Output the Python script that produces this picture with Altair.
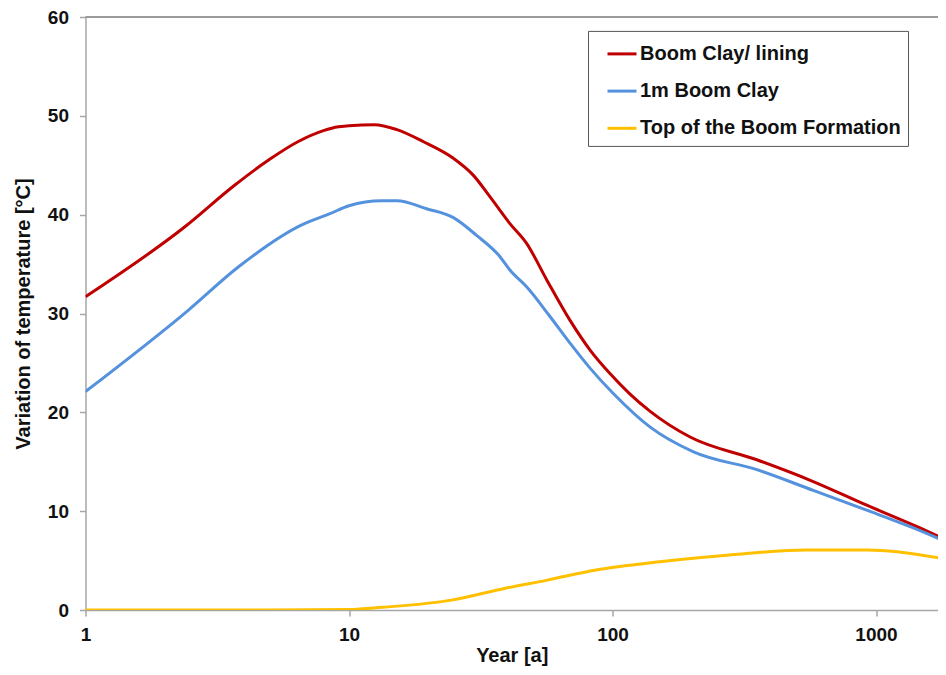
import altair as alt
import pandas as pd

# ---- data ----
series_names = ["Boom Clay/ lining", "1m Boom Clay", "Top of the Boom Formation"]
series_colors = ["#C00000", "#5592DE", "#FFC000"]

red_years = [1, 2.39, 3.69, 5.0, 6.42, 8.0, 9.11, 10, 12.5, 15.2, 19.1, 24.9, 29.6, 34.3,
             40.8, 47.2, 56.3, 69, 82.2, 98, 116, 139, 197, 353, 578, 922, 1469, 1845]
red_vals = [31.7, 38.8, 43.0, 45.6, 47.4, 48.5, 48.9, 49.0, 49.1, 48.6, 47.4, 45.7, 44.0, 41.8,
            39.1, 37.1, 33.4, 29.3, 26.3, 23.9, 21.9, 20.1, 17.5, 15.2, 13.0, 10.6, 8.3, 7.1]

blue_years = [1, 2.46, 3.8, 6.62, 8.47, 10, 13.3, 15.2, 19.7, 24.9, 30.5, 37.4, 40.8, 47.2,
              57.9, 69, 82, 100.7, 139, 203, 353, 578, 922, 1386, 1845]
blue_vals = [22.1, 30.35, 34.7, 38.96, 40.1, 40.9, 41.4, 41.4, 40.6, 39.7, 37.9, 35.75, 34.4, 32.7,
             29.7, 27.0, 24.5, 21.9, 18.5, 16.0, 14.2, 12.1, 10.1, 8.3, 6.9]

yellow_years = [1, 5, 10, 13.3, 24.5, 39.2, 56.1, 86.5, 154, 284, 543, 933, 1202, 1845]
yellow_vals = [0, 0, 0.05, 0.27, 1.0, 2.2, 3.0, 4.05, 4.9, 5.6, 6.07, 6.07, 5.9, 5.13]

x_ticks = [1, 10, 100, 1000]
y_ticks = [0, 10, 20, 30, 40, 50, 60]

rows = []
for name, ys, vs in zip(series_names,
                        [red_years, blue_years, yellow_years],
                        [red_vals, blue_vals, yellow_vals]):
    for yr, v in zip(ys, vs):
        rows.append({"series": name, "year": yr, "value": v})
df = pd.DataFrame(rows)

FONT = "Liberation Sans"
W = 852.5
H = 593
X_MAX = 1719

lines = alt.Chart(df).mark_line(strokeWidth=3, interpolate="monotone", clip=True).encode(
    x=alt.X("year:Q",
            scale=alt.Scale(type="log", domain=[1, X_MAX], nice=False),
            axis=alt.Axis(values=x_ticks, format="d", title="Year [a]",
                          labelPadding=9, titlePadding=1, labelFlush=False)),
    y=alt.Y("value:Q",
            scale=alt.Scale(domain=[0, 60], nice=False),
            axis=alt.Axis(values=y_ticks, title="Variation of temperature [°C]",
                          labelPadding=11, titlePadding=14)),
    color=alt.Color("series:N",
                    scale=alt.Scale(domain=series_names, range=series_colors),
                    legend=alt.Legend(orient="none", legendX=502.5, legendY=13.9, title=None,
                                      symbolType="stroke", symbolSize=841, symbolStrokeWidth=3,
                                      labelFont=FONT, labelFontSize=20, labelFontWeight="bold",
                                      labelColor="#111111", labelOffset=2, labelLimit=500,
                                      rowPadding=11.2, padding=7, symbolOffset=11,
                                      strokeColor="#555555", fillColor="white")),
)

top_rule = alt.Chart(pd.DataFrame({"a": [0]})).mark_rule(color="#9a9a9a", strokeWidth=2).encode(
    x=alt.value(0), x2=alt.value(W), y=alt.value(0)
)

chart = alt.layer(lines, top_rule).properties(
    width=W, height=H,
    autosize=alt.AutoSizeParams(type="none"),
    padding={"left": 77.5, "top": 9, "right": 0, "bottom": 57},
).configure_view(stroke=None).configure_axis(
    grid=False,
    domainColor="#a6a6a6", domainWidth=1.5,
    tickColor="#a6a6a6", tickWidth=1.5, tickSize=6,
    labelFont=FONT, labelFontSize=19, labelFontWeight="bold", labelColor="#111111",
    titleFont=FONT, titleFontSize=20, titleFontWeight="bold", titleColor="#111111",
    labelOverlap=False,
)

chart.save("out.html", embed_options={"renderer": "svg", "actions": False})
